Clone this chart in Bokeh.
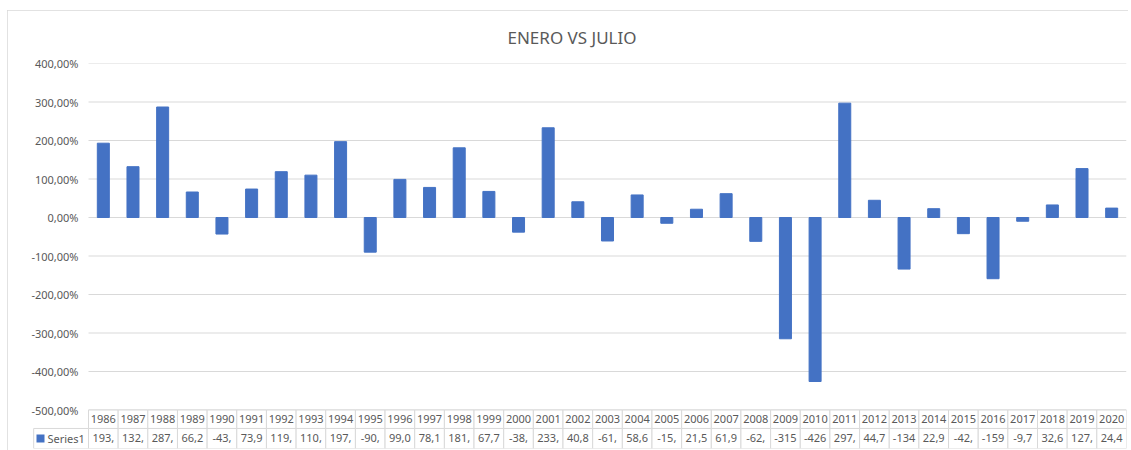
from bokeh.plotting import figure
from bokeh.models import Range1d, FixedTicker, CustomJSTickFormatter
from bokeh.embed import file_html
from bokeh.resources import INLINE
from bokeh.core.properties import value

# ---- data ----
years = [1986, 1987, 1988, 1989, 1990, 1991, 1992, 1993, 1994, 1995,
         1996, 1997, 1998, 1999, 2000, 2001, 2002, 2003, 2004, 2005,
         2006, 2007, 2008, 2009, 2010, 2011, 2012, 2013, 2014, 2015,
         2016, 2017, 2018, 2019, 2020]
values = [193.0, 132.0, 287.0, 66.2, -43.0, 73.9, 119.0, 110.0, 197.0, -90.0,
          99.0, 78.1, 181.0, 67.7, -38.0, 233.0, 40.8, -61.0, 58.6, -15.0,
          21.5, 61.9, -62.0, -315.0, -426.0, 297.0, 44.7, -134.0, 22.9, -42.0,
          -159.0, -9.7, 32.6, 127.0, 24.4]
table_labels = ["193,", "132,", "287,", "66,2", "-43,", "73,9", "119,", "110,", "197,", "-90,",
                "99,0", "78,1", "181,", "67,7", "-38,", "233,", "40,8", "-61,", "58,6", "-15,",
                "21,5", "61,9", "-62,", "-315", "-426", "297,", "44,7", "-134", "22,9", "-42,",
                "-159", "-9,7", "32,6", "127,", "24,4"]
y_ticks = [-500, -400, -300, -200, -100, 0, 100, 200, 300, 400]
series_name = "Series1"
title_text = "ENERO VS  JULIO"

FONT = "Noto Sans"
GREY = "#595959"
LINE = "#D9D9D9"
BAR = "#4472C4"

n = len(years)
xs = [i + 0.5 for i in range(n)]
cell_px = 1038 / n           # width of one year column in px
lead = 56 / cell_px          # width of the "Series1" header column in x units

p = figure(width=1121, height=441,
           x_range=Range1d(-lead, n), y_range=Range1d(-600, 400),
           x_axis_location=None,
           output_backend="svg", toolbar_location=None,
           min_border_left=25, min_border_right=2,
           min_border_top=53, min_border_bottom=3)
p.outline_line_color = None
p.background_fill_color = "white"
p.border_fill_color = "white"
p.styles = {"outline": "1px solid #D9D9D9", "outline-offset": "-1px",
            "margin-left": "7px", "margin-top": "10px"}

p.title.text = title_text
p.title.text_font = FONT
p.title.text_font_size = "17px"
p.title.text_font_style = "normal"
p.title.text_color = GREY
p.title.align = "left"
p.title.offset = 475
p.title.vertical_align = "top"
p.title.standoff = 26

p.xgrid.visible = False
p.ygrid.visible = False

p.yaxis.ticker = FixedTicker(ticks=y_ticks)
p.yaxis.formatter = CustomJSTickFormatter(code="return tick.toFixed(2).replace('.', ',') + '%';")
p.yaxis.axis_line_color = None
p.yaxis.major_tick_line_color = None
p.yaxis.major_tick_out = 0
p.yaxis.minor_tick_line_color = None
p.yaxis.major_label_text_font = FONT
p.yaxis.major_label_text_font_size = "11px"
p.yaxis.major_label_text_color = GREY
p.yaxis.major_label_standoff = -46

# horizontal gridlines over the plot area only
p.segment(x0=[0] * len(y_ticks), x1=[n] * len(y_ticks), y0=y_ticks, y1=y_ticks,
          line_color=LINE, line_width=1)

p.vbar(x=xs, top=values, bottom=0, width=0.405, fill_color=BAR, line_color=BAR)

# data table below the plot
hdr_y, hdr_h = -524, 48
val_y, val_h = -574, 52
p.rect(x=xs, y=[hdr_y] * n, width=1, height=hdr_h, fill_color="white", line_color=LINE)
p.rect(x=xs, y=[val_y] * n, width=1, height=val_h, fill_color="white", line_color=LINE)
p.text(x=xs, y=[hdr_y] * n, text=[str(y) for y in years], text_align="center",
       text_baseline="middle", text_font=value(FONT), text_font_size="11px", text_color=GREY)
p.text(x=xs, y=[val_y] * n, text=table_labels, text_align="center",
       text_baseline="middle", text_font=value(FONT), text_font_size="11px", text_color=GREY)

# series-name cell with legend key
p.rect(x=[-lead / 2 + 0.02], y=[val_y], width=lead - 0.04, height=val_h,
       fill_color="white", line_color=LINE)
p.scatter(x=[-lead + 8 / cell_px], y=[val_y], marker="square", size=8,
          fill_color=BAR, line_color=None)
p.text(x=[-lead + 15 / cell_px], y=[val_y], text=[series_name], text_align="left",
       text_baseline="middle", text_font=value(FONT), text_font_size="11px", text_color=GREY)

open("out.html", "w").write(file_html(p, INLINE))
